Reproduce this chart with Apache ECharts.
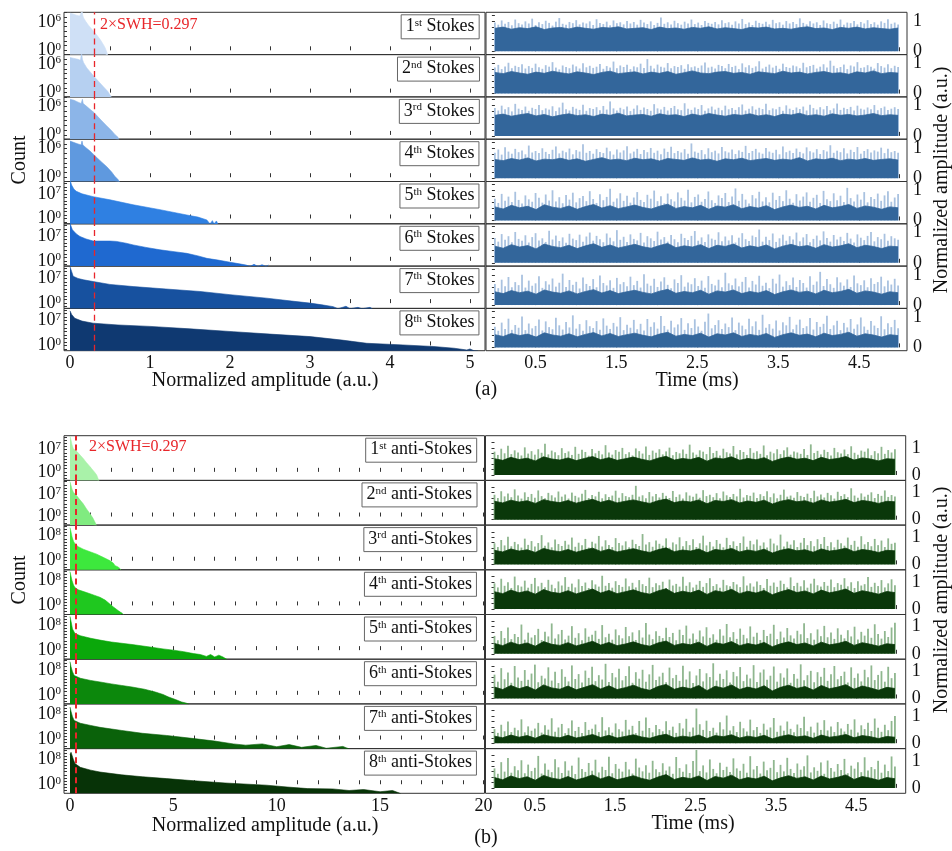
<!DOCTYPE html>
<html><head><meta charset="utf-8">
<script src="https://cdn.jsdelivr.net/npm/echarts@6/dist/echarts.min.js"></script>
<style>html,body{margin:0;padding:0;background:#fff}#c{width:952px;height:851px}</style>
</head><body><div id="c"></div>
<script>
// ================= DATA =================
const SWH2 = 0.297;            // 2 x SWH threshold (a.u.)
const SWEEP_MS = 4.98;         // record length of the time traces (ms)
const ordinals = ['1','2','3','4','5','6','7','8'];
const suffixes = ['st','nd','rd','th','th','th','th','th'];

// tick / label values
const ampTicksA = [0,0.5,1,1.5,2,2.5,3,3.5,4,4.5,5];
const ampLabelsA = [0,1,2,3,4,5];
const ampTicksB = [0,1,2,3,4,5,6,7,8,9,10,11,12,13,14,15,16,17,18,19,20];
const ampLabelsB = [0,5,10,15,20];
const timeTicks = [0,0.5,1,1.5,2,2.5,3,3.5,4,4.5,5];
const timeLabels = [0.5,1.5,2.5,3.5,4.5];
const normTicks = [0,0.2,0.4,0.6,0.8,1,1.2];
const normLabels = [0,1];
const decadeTicks = [-2,-1,0,1,2,3,4,5,6,7,8,9,10,11];
const topDecadeA = [6,6,6,6,7,7,7,7];
const topDecadeB = [7,7,8,8,8,8,8,8];

// ---- (a) Stokes histograms: amplitude (a.u.) / count ----
const aH1Amp=[0,0.03,0.08,0.12,0.14,0.15,0.16,0.17,0.2,0.23,0.27,0.3,0.34,0.38,0.42,0.44,0.46,0.47];
const aH1Cnt=[6.3e7,5e7,2.5e7,1.6e7,8e7,3e8,2e7,6.3e6,1e6,2e5,3.2e4,8e3,1.3e3,160,13,3.2,0.4,0.1];
const aH2Amp=[0,0.05,0.1,0.13,0.145,0.155,0.17,0.21,0.25,0.3,0.36,0.42,0.47,0.5,0.52];
const aH2Cnt=[2.5e7,1.6e7,1e7,6.3e6,2e8,1e7,2e6,1.6e5,2.5e4,2.5e3,200,16,2,0.32,0.1];
const aH3Amp=[0,0.05,0.1,0.14,0.155,0.165,0.2,0.25,0.3,0.35,0.4,0.46,0.52,0.56,0.6,0.61];
const aH3Cnt=[3.2e7,2e7,7.9e6,4e6,3.2e7,4e6,1.3e6,2.5e5,5e4,6.3e3,800,80,8,1.3,0.32,0.1];
const aH4Amp=[0,0.05,0.1,0.14,0.15,0.16,0.2,0.25,0.3,0.35,0.4,0.46,0.52,0.56,0.6,0.62];
const aH4Cnt=[4e7,2e7,1e7,6.3e6,4e7,6.3e6,1.6e6,3.2e5,5e4,7.9e3,1.3e3,160,13,1.6,0.32,0.1];
const aH5Amp=[0,0.02,0.05,0.08,0.15,0.29,0.5,0.79,1.125,1.46,1.6,1.71,1.75,1.78,1.8,1.83,1.85];
const aH5Cnt=[1e11,3.2e9,2e8,5e7,1e7,1.6e6,2e5,7.9e3,320,10,2.5,0.4,0.03,0.25,0.03,0.2,0.025];
const aH6Amp=[0,0.01,0.03,0.08,0.125,0.2,0.29,0.4,0.5,0.58,0.7,0.79,0.95,1.125,1.3,1.46,1.6,1.71,1.85,2.0,2.1,2.2,2.25,2.3,2.35,2.4,2.45,2.48];
const aH6Cnt=[1e11,1e10,6.3e8,4e7,7.9e6,1.6e6,4e5,4e5,4e5,3.2e5,1e5,3.2e4,6.3e3,1.3e3,400,130,25,5,1.6,0.4,0.16,0.063,0.025,0.1,0.025,0.08,0.025,0.063];
const aH7Amp=[0,0.02,0.04,0.1,0.17,0.29,0.5,0.79,1.2,1.625,2.0,2.46,2.8,3.0,3.15,3.29,3.35,3.45,3.5,3.6,3.65,3.75,3.78];
const aH7Cnt=[2e10,1e9,4e7,1e7,4e6,1.3e6,2e5,5e4,1e4,2e3,250,25,3.2,1,0.32,0.1,0.025,0.13,0.025,0.063,0.025,0.063,0.025];
const aH8Amp=[0,0.02,0.06,0.15,0.29,0.6,1.0,1.5,2.04,2.5,3.0,3.4,3.71,4.1,4.54,4.8,4.96,5.0,5.05,5.1];
const aH8Cnt=[6.3e9,6.3e8,5e7,7.9e6,2e6,6.3e5,2.5e5,5e4,7.9e3,1.6e3,320,32,4,1.6,0.5,0.16,0.05,0.1,0.032,0.025];

// ---- (b) anti-Stokes histograms ----
const bH1Amp=[0,0.05,0.1,0.16,0.25,0.35,0.5,0.64,0.8,0.97,1.1,1.2,1.29,1.35,1.4];
const bH1Cnt=[1.6e11,1e10,3.2e8,2e7,6.3e6,2e6,1.6e5,1.6e4,800,40,4,0.63,0.1,0.01,0.0016];
const bH2Amp=[0,0.05,0.1,0.16,0.25,0.32,0.45,0.64,0.8,0.97,1.1,1.21,1.25,1.28];
const bH2Cnt=[1e11,6.3e9,4e8,5e7,1.3e7,4e6,3.2e5,1e4,250,7,0.4,0.016,0.004,0.0016];
const bH3Amp=[0,0.04,0.1,0.17,0.24,0.4,0.64,1.0,1.29,1.6,1.94,2.1,2.18,2.3,2.42,2.46];
const bH3Cnt=[4e10,3.2e9,4e7,1.6e6,2.5e5,3.2e4,5e3,630,130,13,1,0.16,0.025,0.013,0.0032,0.001];
const bH4Amp=[0,0.04,0.1,0.17,0.24,0.4,0.8,1.2,1.45,1.7,1.94,2.1,2.34,2.45,2.55,2.6];
const bH4Cnt=[6.3e10,4e9,7.9e7,3.2e6,5e5,1e5,1.3e4,1.6e3,400,50,2.5,0.32,0.02,0.0063,0.0025,0.001];
const bH5Amp=[0,0.05,0.12,0.24,0.5,1.0,1.45,2.0,3.0,3.87,4.5,5.0,5.5,5.97,6.3,6.6,6.8,7.0,7.2,7.4,7.6];
const bH5Cnt=[6.3e10,1.6e9,6.3e6,2e5,4e4,6.3e3,1.6e3,400,63,10,2.5,1,0.32,0.08,0.04,0.01,0.04,0.0063,0.025,0.0063,0.001];
const bH6Amp=[0,0.05,0.12,0.2,0.5,1.0,1.45,2.0,2.5,3.0,3.6,4.13,4.5,4.77,5.1,5.4,5.6,5.75];
const bH6Cnt=[4e10,1e9,2.5e7,1.6e6,2e5,4e4,1.3e4,3.2e3,1e3,320,63,8,1.3,0.2,0.032,0.005,0.0025,0.001];
const bH7Amp=[0,0.05,0.12,0.2,0.5,1.0,1.45,2.5,3.5,4.67,6.0,7.0,7.9,8.5,9.3,10.0,10.6,11.2,11.9,12.4,13.2,13.5];
const bH7Cnt=[2.5e10,1e9,2e7,1.3e6,1.6e5,3.2e4,7.9e3,800,100,20,2,0.32,0.04,0.016,0.04,0.005,0.025,0.0032,0.013,0.0016,0.0063,0.001];
const bH8Amp=[0,0.05,0.1,0.16,0.24,0.5,1.0,1.45,2.5,3.5,4.67,6.0,7.5,9.5,10.5,11.5,12.7,13.5,14.2,15.0,15.6,16.0];
const bH8Cnt=[3.2e9,1.6e10,2e10,1e8,4e6,2.5e5,3.2e4,7.9e3,1e3,250,63,13,2.5,0.5,0.13,0.04,0.032,0.01,0.02,0.004,0.01,0.001];

// ---- (a) Stokes time traces: body level (dense part) and peaks, normalized amplitude ----
const aB1=[0.76,0.80,0.73,0.78,0.75,0.81,0.72,0.77,0.79,0.74,0.80,0.76,0.73,0.79,0.77,0.81,0.74,0.76,0.78,0.72,0.80,0.75,0.77,0.73,0.79,0.76,0.81,0.74,0.78,0.75,0.72,0.79,0.77,0.80,0.74,0.76,0.73,0.78,0.81,0.75,0.77,0.72,0.79,0.76,0.80,0.74,0.78,0.75,0.73,0.77];
const aP1=[0.95,0.88,1.02,0.91,0.97,0.86,1.05,0.93,0.89,0.99,0.92,1.08,0.87,0.96,0.90,1.01,0.94,0.85,0.98,1.10,0.91,0.88,0.97,0.93,1.03,0.89,0.95,0.92,0.99,0.87,1.06,0.94,0.90,0.98,0.86,1.02,0.93,0.96,0.89,1.00,0.92,0.97,0.88,1.04,0.95,0.90,0.99,0.87,0.94,1.12,0.91,0.96,0.89,1.01,0.93,0.88,0.98,0.92,1.05,0.90,0.95,0.87,1.00,0.94,0.91,0.97,0.89,1.03,0.93,0.96,0.88,0.99,0.92,1.07,0.90,0.95,0.87,1.01,0.94,0.91,0.98,0.89,1.04,0.93,0.96,0.88,1.00,0.92,0.97,0.90,1.09,0.94,0.89,0.99,0.92,0.96,0.87,1.02,0.93,0.90,0.98,0.91,1.05,0.88,0.95,0.93,1.00,0.89,0.97,0.92,1.03,0.90,0.96,0.88,0.99,0.94,1.06,0.91,0.95,0.89];
const aB2=[0.70,0.66,0.73,0.68,0.64,0.71,0.67,0.74,0.69,0.65,0.72,0.68,0.63,0.70,0.74,0.66,0.69,0.72,0.65,0.71,0.67,0.73,0.64,0.69,0.75,0.68,0.66,0.71,0.73,0.67,0.70,0.64,0.72,0.69,0.66,0.74,0.68,0.71,0.65,0.70,0.73,0.67,0.69,0.64,0.72,0.68,0.75,0.66,0.70,0.68];
const aP2=[0.86,0.95,0.81,0.90,1.02,0.84,0.92,0.88,0.97,0.83,0.91,0.85,0.99,0.87,0.82,0.94,0.89,1.04,0.86,0.80,0.93,0.88,0.84,0.96,0.90,0.83,1.00,0.87,0.92,0.85,0.89,0.98,0.82,0.91,0.86,1.06,0.84,0.93,0.88,0.95,0.81,0.90,0.87,0.99,0.85,1.14,0.92,0.83,0.96,0.89,0.86,1.01,0.84,0.91,0.88,0.94,0.82,0.97,0.87,0.90,0.85,0.93,1.03,0.86,0.89,0.83,0.95,0.91,0.84,0.98,0.88,0.92,0.81,1.00,0.87,0.94,0.85,0.90,1.07,0.83,0.89,0.96,0.86,0.92,0.82,0.99,0.88,0.85,0.93,0.90,0.84,1.02,0.87,0.91,0.95,0.83,0.89,0.97,0.86,1.09,0.92,0.84,0.88,0.96,0.81,0.93,0.90,1.04,0.85,0.87,0.94,0.89,0.83,1.01,0.91,0.86,0.97,0.84,0.92,0.88];
const aB3=[0.68,0.72,0.65,0.70,0.74,0.66,0.71,0.63,0.69,0.73,0.67,0.70,0.64,0.72,0.68,0.75,0.66,0.69,0.71,0.65,0.73,0.68,0.70,0.64,0.72,0.67,0.74,0.69,0.65,0.71,0.68,0.73,0.66,0.70,0.64,0.72,0.69,0.75,0.67,0.70,0.65,0.73,0.68,0.71,0.66,0.69,0.74,0.67,0.70,0.68];
const aP3=[0.92,0.84,1.00,0.88,0.95,0.81,1.06,0.90,0.86,0.97,0.83,0.93,0.89,1.02,0.85,0.91,0.87,0.98,0.82,0.94,1.10,0.88,0.84,0.96,0.90,0.86,1.03,0.83,0.92,0.89,0.95,0.85,0.99,0.87,1.14,0.91,0.84,0.93,0.88,0.97,0.82,0.90,1.01,0.86,0.94,0.89,0.83,1.05,0.91,0.87,0.96,0.84,0.92,0.99,0.88,0.85,1.08,0.90,0.86,0.94,0.89,1.02,0.83,0.91,0.97,0.87,0.93,0.85,1.00,0.88,0.92,0.86,0.95,1.04,0.84,0.90,0.98,0.87,0.93,0.89,1.06,0.85,0.91,0.88,0.96,0.83,1.01,0.90,0.86,0.94,0.89,0.97,0.84,1.03,0.92,0.87,0.95,0.88,0.99,0.85,0.91,1.07,0.86,0.93,0.89,0.96,0.84,1.00,0.90,0.87,0.94,0.88,1.02,0.85,0.92,0.97,0.86,0.90,0.95,0.89];
const aB4=[0.62,0.58,0.65,0.60,0.67,0.57,0.63,0.61,0.66,0.59,0.64,0.56,0.62,0.68,0.60,0.63,0.58,0.66,0.61,0.64,0.57,0.65,0.62,0.59,0.67,0.60,0.63,0.56,0.64,0.61,0.66,0.58,0.62,0.65,0.59,0.63,0.60,0.68,0.57,0.64,0.61,0.66,0.58,0.63,0.60,0.65,0.59,0.62,0.64,0.60];
const aP4=[0.84,0.95,0.78,1.02,0.88,0.81,0.97,0.86,0.92,0.79,1.08,0.85,0.90,0.83,0.99,0.87,0.80,0.94,1.05,0.82,0.91,0.86,0.98,0.79,0.93,0.88,1.12,0.84,0.90,0.81,0.96,0.87,0.83,1.01,0.89,0.78,0.95,0.85,0.92,1.06,0.82,0.88,0.97,0.80,0.93,0.86,1.00,0.84,0.91,0.79,0.98,0.87,1.04,0.83,0.90,0.85,0.96,0.81,1.15,0.88,0.84,0.93,0.79,0.99,0.86,0.91,0.82,1.03,0.89,0.85,0.95,0.80,0.92,0.87,1.07,0.83,0.90,0.97,0.85,0.81,1.00,0.88,0.84,0.94,0.79,1.05,0.86,0.91,0.83,0.98,0.87,0.82,1.02,0.89,0.85,0.96,0.80,0.93,0.88,1.09,0.84,0.91,0.86,0.99,0.82,0.94,0.87,1.03,0.81,0.90,0.96,0.85,0.92,0.88,1.01,0.83,0.97,0.86,0.90,0.84];
const aB5=[0.45,0.38,0.50,0.42,0.47,0.36,0.52,0.44,0.40,0.48,0.37,0.46,0.53,0.41,0.49,0.39,0.45,0.51,0.43,0.38,0.47,0.54,0.40,0.46,0.42,0.50,0.37,0.48,0.44,0.52,0.39,0.46,0.41,0.49,0.36,0.45,0.51,0.43,0.47,0.38,0.50,0.42,0.46,0.53,0.40,0.48,0.44,0.37,0.45,0.42];
const aP5=[0.72,0.58,0.88,0.65,0.79,0.61,0.95,0.68,0.56,0.83,0.70,0.62,0.91,0.75,0.59,0.86,0.66,1.00,0.63,0.77,0.57,0.84,0.69,0.92,0.60,0.74,0.81,0.64,0.97,0.71,0.58,0.87,0.67,0.78,1.05,0.62,0.73,0.90,0.65,0.82,0.59,0.76,0.94,0.68,0.61,0.85,0.72,0.99,0.64,0.80,0.57,0.89,0.70,0.63,0.93,0.75,0.66,1.02,0.60,0.78,0.86,0.62,0.71,0.96,0.67,0.58,0.83,0.74,0.91,0.61,0.79,1.06,0.65,0.88,0.69,0.56,0.84,0.73,0.95,0.63,0.77,0.60,0.92,0.68,0.81,0.64,1.00,0.72,0.59,0.87,0.66,0.79,0.93,0.62,0.75,0.85,0.58,0.98,0.70,0.64,0.90,0.67,0.82,0.61,1.08,0.74,0.63,0.86,0.69,0.94,0.60,0.78,0.71,0.89,0.65,0.83,0.97,0.62,0.76,0.88];
const aB6=[0.55,0.48,0.60,0.52,0.57,0.46,0.62,0.54,0.50,0.58,0.47,0.56,0.63,0.51,0.59,0.49,0.55,0.61,0.53,0.48,0.57,0.64,0.50,0.56,0.52,0.60,0.47,0.58,0.54,0.62,0.49,0.56,0.51,0.59,0.46,0.55,0.61,0.53,0.57,0.48,0.60,0.52,0.56,0.63,0.50,0.58,0.54,0.47,0.55,0.53];
const aP6=[0.82,0.70,0.95,0.76,0.88,0.68,1.02,0.79,0.73,0.91,0.67,0.85,0.98,0.74,0.81,0.69,1.06,0.77,0.90,0.72,0.84,0.66,0.96,0.80,0.75,0.93,0.70,0.87,1.00,0.73,0.89,0.78,0.68,0.97,0.83,0.71,1.08,0.76,0.86,0.69,0.94,0.79,0.74,0.99,0.67,0.88,0.81,0.72,1.03,0.77,0.85,0.70,0.92,0.78,0.68,0.96,0.82,0.75,0.89,1.05,0.73,0.84,0.69,0.94,0.80,0.76,1.01,0.71,0.87,0.74,0.91,0.67,0.83,0.98,0.78,0.72,0.90,0.85,1.10,0.70,0.86,0.75,0.97,0.69,0.81,0.93,0.73,0.88,0.77,1.00,0.71,0.84,0.95,0.68,0.79,0.90,0.74,1.04,0.82,0.70,0.92,0.77,0.86,0.72,0.99,0.80,0.67,0.94,0.83,0.75,0.89,1.02,0.71,0.85,0.78,0.96,0.73,0.88,0.81,0.76];
const aB7=[0.44,0.38,0.48,0.41,0.46,0.36,0.50,0.43,0.39,0.47,0.37,0.45,0.51,0.40,0.48,0.38,0.44,0.49,0.42,0.37,0.46,0.52,0.39,0.45,0.41,0.49,0.36,0.47,0.43,0.50,0.38,0.45,0.40,0.48,0.35,0.44,0.50,0.42,0.46,0.37,0.49,0.41,0.45,0.52,0.39,0.47,0.43,0.36,0.44,0.41];
const aP7=[0.70,0.56,0.84,0.62,0.93,0.59,0.76,0.66,1.00,0.58,0.81,0.64,0.72,0.95,0.57,0.79,0.68,0.88,0.61,0.74,1.04,0.60,0.83,0.67,0.77,0.55,0.91,0.70,0.63,0.86,0.59,0.98,0.73,0.65,0.82,0.57,0.90,0.69,0.76,0.62,0.94,0.66,0.80,0.58,1.02,0.71,0.64,0.87,0.60,0.78,0.92,0.67,0.56,0.85,0.73,0.99,0.61,0.75,0.69,0.89,0.63,0.81,0.57,0.96,0.70,0.65,0.84,0.59,1.07,0.72,0.66,0.88,0.62,0.77,0.93,0.58,0.80,0.68,0.97,0.64,0.74,0.56,0.87,0.71,1.01,0.61,0.79,0.66,0.91,0.60,0.83,0.73,0.58,0.95,0.67,0.78,1.10,0.63,0.86,0.69,0.57,0.92,0.75,0.64,0.85,0.60,0.98,0.72,0.66,0.82,0.59,0.89,0.70,0.76,0.94,0.62,0.81,0.68,0.87,0.65];
const aB8=[0.42,0.36,0.46,0.39,0.44,0.34,0.48,0.41,0.37,0.45,0.35,0.43,0.49,0.38,0.46,0.36,0.42,0.47,0.40,0.35,0.44,0.50,0.37,0.43,0.39,0.47,0.34,0.45,0.41,0.48,0.36,0.43,0.38,0.46,0.33,0.42,0.48,0.40,0.44,0.35,0.47,0.39,0.43,0.50,0.37,0.45,0.41,0.34,0.42,0.39];
const aP8=[0.68,0.55,0.82,0.61,0.95,0.58,0.74,0.65,1.02,0.57,0.79,0.63,0.71,0.92,0.56,0.86,0.67,0.60,0.98,0.73,0.59,0.84,0.66,1.06,0.62,0.77,0.55,0.90,0.70,0.64,0.87,0.58,0.96,0.72,0.61,0.81,0.69,1.00,0.57,0.75,0.65,0.91,0.60,0.78,0.56,0.94,0.68,0.83,0.62,1.04,0.71,0.59,0.88,0.66,0.76,0.97,0.58,0.80,0.64,0.93,0.69,0.55,0.85,1.12,0.63,0.74,0.90,0.61,0.79,0.67,0.99,0.57,0.82,0.72,0.60,0.95,0.70,0.86,0.58,1.08,0.65,0.77,0.62,0.89,0.56,0.83,0.73,1.01,0.60,0.75,0.92,0.64,0.70,0.97,0.59,0.84,0.68,0.78,1.05,0.61,0.73,0.88,0.57,0.81,0.66,0.94,0.62,0.76,0.99,0.69,0.58,0.87,0.72,0.64,1.03,0.60,0.80,0.67,0.91,0.63];

// ---- (b) anti-Stokes time traces ----
const bB1=[0.60,0.54,0.65,0.57,0.62,0.52,0.67,0.59,0.55,0.63,0.53,0.61,0.68,0.56,0.64,0.54,0.60,0.66,0.58,0.52,0.62,0.69,0.55,0.61,0.57,0.65,0.51,0.63,0.59,0.67,0.54,0.61,0.56,0.64,0.50,0.60,0.66,0.58,0.62,0.53,0.65,0.57,0.61,0.68,0.55,0.63,0.59,0.52,0.60,0.58];
const bP1=[0.86,0.74,0.97,0.80,1.08,0.77,0.91,0.83,0.72,1.02,0.79,0.88,0.75,0.95,0.82,1.15,0.76,0.90,0.84,0.73,0.99,0.81,0.87,0.74,1.04,0.78,0.93,0.85,0.71,0.96,0.80,0.89,0.76,1.10,0.83,0.75,0.92,0.86,1.00,0.77,0.84,0.72,0.98,0.88,0.79,1.05,0.74,0.90,0.82,0.95,0.76,0.87,1.01,0.73,0.85,0.80,0.94,0.78,1.12,0.83,0.75,0.91,0.86,0.77,1.03,0.81,0.89,0.72,0.97,0.84,0.79,1.07,0.76,0.92,0.85,0.74,0.99,0.82,0.88,0.78,1.09,0.73,0.86,0.80,0.95,0.77,0.91,1.02,0.75,0.87,0.83,0.78,0.96,0.74,1.13,0.81,0.89,0.76,0.93,0.85,0.72,1.00,0.84,0.79,0.94,0.77,1.06,0.82,0.75,0.90,0.86,0.98,0.73,0.88,0.80,1.04,0.78,0.92,0.83,0.95];
const bB2=[0.68,0.62,0.72,0.65,0.70,0.60,0.74,0.67,0.63,0.71,0.61,0.69,0.75,0.64,0.72,0.62,0.68,0.73,0.66,0.60,0.70,0.76,0.63,0.69,0.65,0.73,0.59,0.71,0.67,0.74,0.62,0.69,0.64,0.72,0.58,0.68,0.74,0.66,0.70,0.61,0.73,0.65,0.69,0.75,0.63,0.71,0.67,0.60,0.68,0.66];
const bP2=[0.92,0.80,1.05,0.86,0.97,0.83,1.12,0.89,0.78,1.01,0.84,0.95,0.81,1.08,0.87,0.79,0.99,0.90,0.82,1.04,0.85,0.93,0.78,1.00,0.88,0.82,0.96,1.10,0.80,0.91,0.86,1.03,0.79,0.94,0.84,0.89,1.07,0.81,0.98,0.87,0.83,0.92,1.25,0.85,0.90,0.79,1.02,0.86,0.95,0.82,0.99,0.88,0.80,1.06,0.84,0.93,0.78,1.01,0.89,0.85,0.96,0.81,1.09,0.87,0.92,0.83,0.98,0.79,1.04,0.90,0.84,0.95,0.86,1.14,0.82,0.91,0.88,1.00,0.80,0.94,0.87,1.05,0.83,0.97,0.79,0.92,1.11,0.85,0.89,0.81,1.02,0.88,0.84,0.96,0.80,1.07,0.86,0.93,0.82,0.99,0.90,0.78,1.03,0.87,0.94,0.83,1.16,0.89,0.81,0.97,0.85,0.92,1.01,0.80,0.95,0.88,1.08,0.84,0.91,0.86];
const bB3=[0.52,0.46,0.57,0.49,0.54,0.44,0.59,0.51,0.47,0.55,0.45,0.53,0.60,0.48,0.56,0.46,0.52,0.58,0.50,0.44,0.54,0.61,0.47,0.53,0.49,0.57,0.43,0.55,0.51,0.59,0.46,0.53,0.48,0.56,0.42,0.52,0.58,0.50,0.54,0.45,0.57,0.49,0.53,0.60,0.47,0.55,0.51,0.44,0.52,0.50];
const bP3=[0.78,0.64,0.90,0.70,1.02,0.67,0.83,0.74,0.62,0.95,0.72,0.86,0.66,0.79,1.08,0.69,0.81,0.63,0.92,0.75,0.68,0.87,0.73,0.99,0.65,0.80,0.71,0.94,0.62,0.84,0.77,1.05,0.66,0.89,0.72,0.64,0.97,0.79,0.70,0.85,0.63,0.91,0.75,0.68,1.12,0.73,0.82,0.65,0.88,0.76,0.69,0.96,0.62,0.81,0.74,1.00,0.67,0.86,0.71,0.93,0.64,0.78,1.06,0.70,0.83,0.66,0.90,0.76,0.63,0.98,0.72,0.85,0.68,0.79,1.03,0.65,0.87,0.74,0.92,0.69,0.81,0.62,0.95,0.77,0.70,1.10,0.66,0.84,0.73,0.89,0.64,0.80,0.97,0.71,0.86,0.67,0.93,0.75,1.01,0.68,0.82,0.63,0.91,0.78,0.69,0.99,0.72,0.87,0.65,1.04,0.74,0.83,0.67,0.94,0.71,0.88,0.64,0.96,0.76,0.80];
const bB4=[0.64,0.57,0.70,0.60,0.67,0.55,0.72,0.62,0.58,0.68,0.56,0.65,0.74,0.59,0.69,0.57,0.64,0.71,0.61,0.55,0.67,0.75,0.58,0.66,0.60,0.70,0.54,0.68,0.62,0.73,0.57,0.66,0.59,0.69,0.53,0.64,0.72,0.61,0.67,0.56,0.70,0.60,0.66,0.74,0.58,0.68,0.62,0.55,0.65,0.61];
const bP4=[0.95,0.80,1.12,0.86,0.99,0.78,1.20,0.88,0.83,1.05,0.79,0.93,1.15,0.84,0.97,0.81,1.08,0.90,0.77,1.02,0.87,1.18,0.82,0.94,0.80,1.10,0.85,0.98,0.78,1.06,0.91,0.83,1.23,0.86,0.96,0.79,1.03,0.89,0.82,1.13,0.84,0.97,0.80,1.07,0.92,0.85,1.16,0.81,0.95,0.88,1.01,0.78,1.09,0.87,0.93,0.83,1.19,0.86,0.99,0.80,0.90,1.04,0.82,0.96,1.14,0.85,0.92,0.79,1.08,0.88,0.84,1.00,0.91,0.81,1.21,0.87,0.95,0.83,1.02,0.89,0.78,1.11,0.86,0.98,0.82,1.05,0.93,0.80,1.17,0.85,0.97,0.84,1.06,0.79,0.94,1.12,0.88,0.83,1.00,0.86,1.09,0.81,0.96,0.90,1.14,0.84,0.99,0.78,1.03,0.87,0.92,1.18,0.82,0.97,0.85,1.07,0.80,0.95,1.10,0.88];
const bB5=[0.38,0.30,0.43,0.33,0.40,0.28,0.45,0.35,0.31,0.41,0.29,0.37,0.46,0.32,0.42,0.30,0.36,0.44,0.34,0.28,0.40,0.47,0.31,0.38,0.33,0.43,0.27,0.41,0.35,0.45,0.30,0.38,0.32,0.42,0.26,0.37,0.44,0.34,0.40,0.29,0.43,0.33,0.38,0.46,0.31,0.41,0.35,0.28,0.37,0.34];
const bP5=[0.66,0.50,0.84,0.58,0.97,0.54,0.73,0.62,1.08,0.52,0.78,0.60,0.69,0.92,0.51,0.81,0.64,1.12,0.56,0.72,0.88,0.53,0.67,1.02,0.59,0.76,0.50,0.94,0.63,0.70,0.85,0.55,1.06,0.61,0.74,0.52,0.90,0.68,0.57,0.99,0.65,0.79,0.51,0.87,0.60,1.14,0.71,0.54,0.83,0.66,0.58,0.96,0.62,0.77,0.50,0.89,0.69,1.04,0.56,0.75,0.53,0.86,0.64,0.98,0.59,0.72,0.52,0.91,0.67,1.10,0.61,0.80,0.55,0.93,0.70,0.57,1.01,0.63,0.78,0.51,0.88,0.66,0.74,1.07,0.54,0.82,0.60,0.95,0.68,0.56,0.85,0.72,1.13,0.58,0.76,0.52,0.90,0.65,1.03,0.61,0.79,0.55,0.94,0.70,0.57,0.87,0.64,1.00,0.53,0.81,0.67,0.92,0.59,1.09,0.73,0.56,0.84,0.62,0.97,1.15];
const bB6=[0.42,0.33,0.48,0.36,0.45,0.31,0.50,0.39,0.34,0.46,0.32,0.41,0.51,0.35,0.47,0.33,0.40,0.49,0.37,0.30,0.44,0.52,0.34,0.42,0.36,0.48,0.29,0.45,0.38,0.50,0.33,0.42,0.35,0.47,0.28,0.41,0.49,0.37,0.44,0.31,0.48,0.36,0.42,0.51,0.34,0.46,0.39,0.30,0.41,0.37];
const bP6=[0.88,0.62,1.12,0.71,0.96,0.58,1.20,0.77,0.65,1.05,0.69,0.92,1.25,0.60,0.84,0.74,1.15,0.66,0.99,0.57,1.08,0.80,0.63,1.22,0.72,0.90,0.59,1.03,0.76,1.17,0.64,0.86,0.70,1.28,0.61,0.94,0.78,1.10,0.67,0.83,1.19,0.58,0.97,0.73,1.06,0.62,0.89,1.24,0.68,0.81,0.95,0.60,1.14,0.75,0.87,0.65,1.21,0.70,1.00,0.57,0.85,1.09,0.63,0.93,0.79,1.30,0.66,0.91,0.72,1.04,0.59,0.98,0.82,1.16,0.64,0.88,0.74,1.23,0.61,0.96,1.07,0.69,0.84,1.18,0.62,0.93,0.77,1.11,0.58,0.90,0.73,1.26,0.67,0.86,1.02,0.60,0.97,0.80,1.13,0.65,0.89,1.20,0.71,0.83,0.99,0.59,1.15,0.76,0.92,0.63,1.06,0.78,1.22,0.68,0.87,1.01,0.62,1.17,0.75,0.94];
const bB7=[0.26,0.20,0.30,0.22,0.28,0.18,0.31,0.24,0.20,0.29,0.19,0.25,0.32,0.21,0.29,0.19,0.25,0.31,0.23,0.18,0.27,0.33,0.20,0.26,0.22,0.30,0.17,0.28,0.24,0.31,0.19,0.26,0.21,0.29,0.16,0.25,0.31,0.23,0.27,0.18,0.30,0.22,0.26,0.32,0.20,0.28,0.24,0.17,0.25,0.22];
const bP7=[0.52,0.38,0.68,0.44,0.80,0.41,0.57,0.48,0.88,0.40,0.62,0.46,0.54,0.75,0.39,0.66,0.50,0.92,0.42,0.58,0.71,0.37,0.55,0.84,0.45,0.60,0.38,0.78,0.49,0.53,0.69,0.41,0.96,0.47,0.59,0.39,0.73,0.51,0.43,0.86,0.50,0.64,0.37,0.82,0.46,0.95,0.56,0.40,0.67,0.52,0.44,0.81,0.48,0.61,0.38,0.74,0.54,0.90,0.42,0.58,1.28,0.70,0.49,0.83,0.45,0.57,0.39,0.77,0.51,1.02,0.47,0.63,0.41,0.79,0.55,0.43,0.87,0.48,0.60,0.38,0.72,0.50,0.58,0.93,0.42,0.65,0.46,0.80,0.53,0.40,0.69,0.56,0.98,0.44,0.61,0.39,0.76,0.49,0.85,0.47,0.62,0.41,0.78,0.54,0.43,0.71,0.50,0.88,0.39,0.66,0.52,0.75,0.45,0.91,0.57,0.42,0.68,0.48,0.82,1.00];
const bB8=[0.38,0.30,0.44,0.34,0.41,0.28,0.46,0.36,0.31,0.42,0.29,0.37,0.48,0.33,0.43,0.30,0.37,0.45,0.35,0.28,0.40,0.49,0.31,0.39,0.34,0.44,0.27,0.42,0.36,0.47,0.30,0.38,0.33,0.43,0.26,0.37,0.45,0.35,0.41,0.29,0.44,0.33,0.39,0.48,0.31,0.42,0.36,0.28,0.38,0.34];
const bP8=[0.72,0.52,0.95,0.60,1.10,0.56,0.80,0.65,1.02,0.54,0.86,0.62,0.74,1.18,0.53,0.90,0.67,0.58,1.06,0.76,0.55,0.98,0.64,0.82,0.51,1.12,0.70,0.59,0.92,0.63,1.04,0.57,0.78,0.66,1.15,0.54,0.88,0.71,0.60,0.96,0.68,0.53,1.08,0.75,0.61,0.84,0.56,1.00,0.69,0.58,0.91,0.64,0.79,0.52,1.14,0.73,0.60,0.87,0.55,0.99,1.40,0.62,0.83,0.57,1.05,0.70,0.54,0.93,0.66,0.78,0.59,1.09,0.72,0.63,0.89,0.56,1.17,0.68,0.81,0.53,0.97,0.65,0.74,1.03,0.58,0.85,0.61,1.11,0.70,0.55,0.90,0.67,0.80,1.20,0.57,0.76,0.63,0.94,0.52,1.01,0.73,0.60,0.88,0.66,1.07,0.54,0.82,0.71,0.95,0.58,1.13,0.64,0.77,0.69,1.00,0.56,0.86,0.62,1.16,0.79];

// ================= STYLE / LAYOUT =================
const FONT = "'Liberation Serif','Times New Roman',Times,serif";
const INK = '#111';
const W = 952;
const figs = [
  { top: 12.3, h: 42.3, lx: 64, mid: 485, rx: 907,
    ampMin: -0.075, ampMax: 5.1875, tMin: -0.11, tMax: 5.09, nMin: -0.11, nMax: 1.29,
    expRange: [[-0.9,8],[-0.9,8],[-0.9,8],[-0.9,8],[-1.5,10.5],[-1.5,10.5],[-1.5,10.5],[-1.5,10.5]],
    topDecade: topDecadeA, ampTicks: ampTicksA, ampLabels: ampLabelsA,
    hists: [[aH1Amp,aH1Cnt],[aH2Amp,aH2Cnt],[aH3Amp,aH3Cnt],[aH4Amp,aH4Cnt],[aH5Amp,aH5Cnt],[aH6Amp,aH6Cnt],[aH7Amp,aH7Cnt],[aH8Amp,aH8Cnt]],
    bodies: [aB1,aB2,aB3,aB4,aB5,aB6,aB7,aB8], peaks: [aP1,aP2,aP3,aP4,aP5,aP6,aP7,aP8],
    histColors: ['#cfe0f6','#b6d0f1','#8cb5e8','#5f99df','#2f80e2','#1f69d0','#17519f','#0f3971'],
    dark: '#33669b', light: '#a9c2e0', word: ' Stokes', boxRight: 479.5,
    swhX: 100, swhY: 25, dashW: 1.3, countY: 160, bottomY: 381, timeY: 381, timeX: 697, tagY: 390, tag: '(a)', rightLabelY: 180 },
  { top: 435.7, h: 44.7, lx: 64, mid: 484.5, rx: 905.7,
    ampMin: -0.29, ampMax: 20.05, tMin: -0.112, tMax: 5.114, nMin: -0.2, nMax: 1.45,
    expRange: [[-2.7,11.4],[-2.7,11.4],[-2.9,11.4],[-2.9,11.4],[-2.9,11.4],[-2.9,11.4],[-2.9,11.4],[-2.9,11.4]],
    topDecade: topDecadeB, ampTicks: ampTicksB, ampLabels: ampLabelsB,
    hists: [[bH1Amp,bH1Cnt],[bH2Amp,bH2Cnt],[bH3Amp,bH3Cnt],[bH4Amp,bH4Cnt],[bH5Amp,bH5Cnt],[bH6Amp,bH6Cnt],[bH7Amp,bH7Cnt],[bH8Amp,bH8Cnt]],
    bodies: [bB1,bB2,bB3,bB4,bB5,bB6,bB7,bB8], peaks: [bP1,bP2,bP3,bP4,bP5,bP6,bP7,bP8],
    histColors: ['#a9f2a9','#80eb80','#3de83d','#1fc81f','#0aa80a','#0c880c','#0a620a','#073307'],
    dark: '#0a380a', light: '#8fb78f', word: ' anti-Stokes', boxRight: 477,
    swhX: 89, swhY: 447, dashW: 2, countY: 580, bottomY: 826, timeY: 824, timeX: 693, tagY: 838, tag: '(b)', rightLabelY: 600 }
];

const grid = [], xAxis = [], yAxis = [], series = [], title = [], graphic = [];
const tickLine = { color: '#333', width: 1 };
const supRich = {
  b: { fontFamily: FONT, fontSize: 18, color: INK },
  s: { fontFamily: FONT, fontSize: 11, color: INK, verticalAlign: 'top', lineHeight: 12 }
};
const pairs = (xs, ys) => xs.map((x, k) => [x, ys[k]]);
const sampled = vals => vals.map((v, k) => [k * SWEEP_MS / (vals.length - 1), v]);

figs.forEach(f => {
  for (let i = 0; i < 8; i++) {
    const top = f.top + i * f.h;
    const last = i === 7;
    const [lo, hi] = f.expRange[i];
    // ---------- left: histogram ----------
    const gL = grid.length;
    grid.push({ left: f.lx, top: top, width: f.mid - f.lx, height: f.h, show: true,
      borderColor: '#333', borderWidth: 1, backgroundColor: 'transparent' });
    const xL = xAxis.length;
    xAxis.push({ gridIndex: gL, type: 'value', min: f.ampMin, max: f.ampMax,
      axisLine: { show: false }, splitLine: { show: false },
      axisTick: { show: true, inside: true, length: 4, customValues: f.ampTicks, lineStyle: tickLine },
      axisLabel: { show: last, customValues: f.ampLabels, fontFamily: FONT, fontSize: 18, color: INK, margin: 4 } });
    const yLog = yAxis.length;
    yAxis.push({ gridIndex: gL, type: 'log', logBase: 10, position: 'right', min: Math.pow(10, lo), max: Math.pow(10, hi), show: false });
    yAxis.push({ gridIndex: gL, type: 'value', position: 'left', min: lo, max: hi,
      axisLine: { show: false }, splitLine: { show: false },
      axisTick: { show: true, inside: true, length: 3, customValues: decadeTicks.filter(v => v >= lo && v <= hi), lineStyle: tickLine },
      axisLabel: { show: true, customValues: [0, f.topDecade[i]], margin: 3,
        formatter: v => '{b|10}{s|' + v + '}', rich: supRich } });
    const col = f.histColors[i];
    series.push({ type: 'line', xAxisIndex: xL, yAxisIndex: yLog, data: pairs(f.hists[i][0], f.hists[i][1]),
      symbol: 'none', silent: true, lineStyle: { color: col, width: 0.6 },
      areaStyle: { color: col, opacity: 1, origin: 'start' },
      markLine: { silent: true, symbol: 'none', label: { show: false },
        lineStyle: { color: '#e8262a', type: [6, 4], width: f.dashW }, data: [{ xAxis: SWH2 }] } });
    // ---------- right: time trace ----------
    const gR = grid.length;
    grid.push({ left: f.mid + 1, top: top, width: f.rx - f.mid - 1, height: f.h, show: true,
      borderColor: '#333', borderWidth: 1, backgroundColor: 'transparent' });
    const xR = xAxis.length;
    xAxis.push({ gridIndex: gR, type: 'value', min: f.tMin, max: f.tMax,
      axisLine: { show: false }, splitLine: { show: false },
      axisTick: { show: true, inside: true, length: 4, customValues: timeTicks, lineStyle: tickLine },
      axisLabel: { show: last, customValues: timeLabels, fontFamily: FONT, fontSize: 18, color: INK, margin: 4 } });
    const yR = yAxis.length;
    yAxis.push({ gridIndex: gR, type: 'value', position: 'right', min: f.nMin, max: f.nMax,
      axisLine: { show: false }, splitLine: { show: false },
      axisTick: { show: true, inside: true, length: 3, customValues: normTicks, lineStyle: tickLine },
      axisLabel: { show: true, customValues: normLabels, fontFamily: FONT, fontSize: 18, color: INK, margin: 6 } });
    series.push({ type: 'bar', xAxisIndex: xR, yAxisIndex: yR, data: sampled(f.peaks[i]),
      barWidth: 1.8, silent: true, itemStyle: { color: f.light } });
    series.push({ type: 'line', xAxisIndex: xR, yAxisIndex: yR, data: sampled(f.bodies[i]),
      symbol: 'none', silent: true, lineStyle: { color: f.dark, width: 0.8 },
      areaStyle: { color: f.dark, opacity: 1 } });
    // ---------- label box ----------
    title.push({ text: '{n|' + ordinals[i] + '}{s|' + suffixes[i] + '}{n|' + f.word + '}',
      right: W - f.boxRight, top: top + 2, backgroundColor: '#fff', borderColor: '#666', borderWidth: 1,
      padding: [3, 5, 4, 5],
      textStyle: { fontWeight: 'normal', rich: {
        n: { fontFamily: FONT, fontSize: 18, fontWeight: 'normal', color: INK },
        s: { fontFamily: FONT, fontSize: 11, fontWeight: 'normal', color: INK, verticalAlign: 'top', lineHeight: 12 } } } });
  }
  const mkText = (x, y, text, size, opts) => Object.assign({ type: 'text', x: x, y: y, silent: true,
    style: { text: text, font: size + 'px ' + FONT, fill: INK, align: 'center', verticalAlign: 'middle' } }, opts || {});
  graphic.push(mkText(20, f.countY, 'Count', 20, { rotation: Math.PI / 2 }));
  graphic.push(mkText(265, f.bottomY, 'Normalized amplitude (a.u.)', 20));
  graphic.push(mkText(f.timeX, f.timeY, 'Time (ms)', 20));
  graphic.push(mkText(486, f.tagY, f.tag, 20));
  graphic.push(mkText(942, f.rightLabelY, 'Normalized amplitude (a.u.)', 20, { rotation: Math.PI / 2 }));
  graphic.push({ type: 'text', x: f.swhX, y: f.swhY, silent: true,
    style: { text: '2×SWH=' + SWH2, font: '16px ' + FONT, fill: '#e8262a', align: 'left', verticalAlign: 'middle' } });
});

const chart = echarts.init(document.getElementById('c'), null, { renderer: 'canvas' });
chart.setOption({ animation: false, backgroundColor: '#fff', textStyle: { fontFamily: FONT },
  grid, xAxis, yAxis, series, title, graphic });
</script>
</body></html>
